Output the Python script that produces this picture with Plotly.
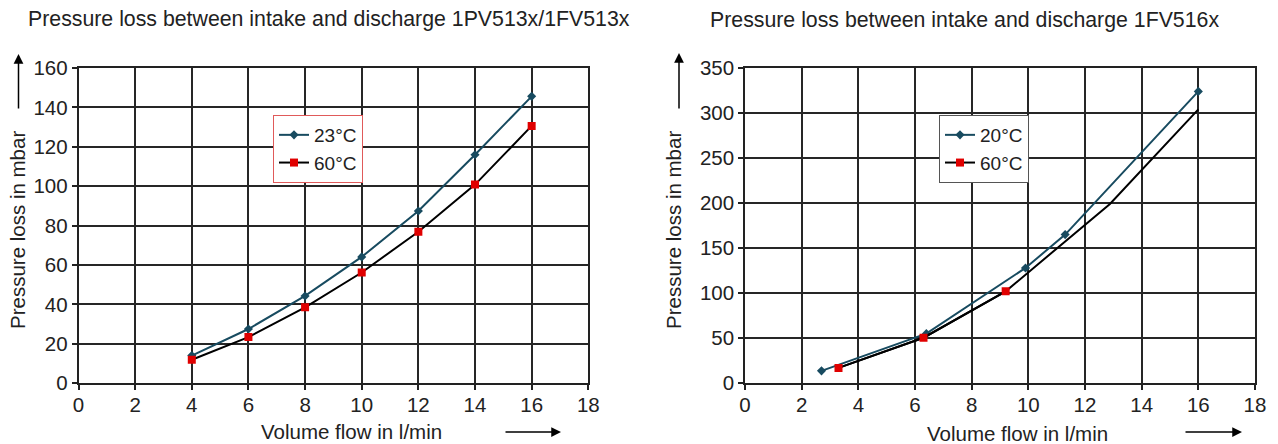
import plotly.graph_objects as go

# ---- data: left chart (1PV513x/1FV513x) ----
flow_left = [4, 6, 8, 10, 12, 14, 16]
loss_left_23 = [14, 27.5, 44.3, 64.1, 87.4, 116, 145.6]
loss_left_60 = [11.9, 23.4, 38.5, 56.2, 76.9, 100.8, 130.6]

# ---- data: right chart (1FV516x) ----
flow_right_20 = [2.7, 6.4, 9.9, 11.3, 16]
loss_right_20 = [13.7, 55, 128, 165, 324]
flow_right_60 = [3.3, 6.3, 9.2, 12.88, 16]
loss_right_60 = [17, 50.5, 102, 199, 304]
flow_right_60_marked = [3.3, 6.3, 9.2]
loss_right_60_marked = [17, 50.5, 102]

x_ticks = [0, 2, 4, 6, 8, 10, 12, 14, 16, 18]
y_ticks_left = [0, 20, 40, 60, 80, 100, 120, 140, 160]
y_ticks_right = [0, 50, 100, 150, 200, 250, 300, 350]

title_left = "Pressure loss between intake and discharge 1PV513x/1FV513x"
title_right = "Pressure loss between intake and discharge 1FV516x"
x_title = "Volume flow in l/min"
y_title = "Pressure loss in mbar"

FONT = "Liberation Sans, Arial, sans-serif"
TXT = "#222222"
TEAL = "#184b60"
RED = "#e00000"
W, H = 1278, 444

fig = go.Figure()

# left chart traces
fig.add_trace(go.Scatter(x=flow_left, y=loss_left_23, name="23°C", mode="lines+markers",
                         line=dict(color=TEAL, width=2),
                         marker=dict(symbol="diamond", size=7, color=TEAL),
                         xaxis="x", yaxis="y", legend="legend"))
fig.add_trace(go.Scatter(x=flow_left, y=loss_left_60, name="60°C", mode="lines+markers",
                         line=dict(color="black", width=2),
                         marker=dict(symbol="square", size=8, color=RED),
                         xaxis="x", yaxis="y", legend="legend"))

# right chart traces
fig.add_trace(go.Scatter(x=flow_right_20, y=loss_right_20, name="20°C", mode="lines+markers",
                         line=dict(color=TEAL, width=2),
                         marker=dict(symbol="diamond", size=7, color=TEAL),
                         xaxis="x2", yaxis="y2", legend="legend2"))
fig.add_trace(go.Scatter(x=flow_right_60, y=loss_right_60, name="60°C", mode="lines",
                         line=dict(color="black", width=2), showlegend=False,
                         xaxis="x2", yaxis="y2"))
fig.add_trace(go.Scatter(x=flow_right_60_marked, y=loss_right_60_marked, name="60°C",
                         mode="lines+markers",
                         line=dict(color="black", width=2),
                         marker=dict(symbol="square", size=8, color=RED),
                         xaxis="x2", yaxis="y2", legend="legend2"))

axis_common = dict(showline=True, linecolor="#222", linewidth=1.6, mirror=True,
                   showgrid=True, gridcolor="#262626", gridwidth=1.6,
                   ticks="outside", ticklen=5, tickwidth=1.6, tickcolor="#222",
                   tickfont=dict(family=FONT, size=20.5, color=TXT),
                   zeroline=False, fixedrange=True, automargin=False)

ydom = [1 - 383.2 / H, 1 - 68.0 / H]
fig.update_layout(
    template="none",
    width=W, height=H, autosize=False,
    margin=dict(l=0, r=0, t=0, b=0, pad=0),
    paper_bgcolor="white", plot_bgcolor="white",
    font=dict(family=FONT, size=20.5, color=TXT),
    xaxis=dict(domain=[78.5 / W, 588.3 / W], range=[0, 18], tickvals=x_ticks, anchor="y",
               ticklabelstandoff=-3, **axis_common),
    yaxis=dict(domain=ydom, range=[0, 160], tickvals=y_ticks_left, anchor="x", **axis_common),
    xaxis2=dict(domain=[745 / W, 1255 / W], range=[0, 18], tickvals=x_ticks, anchor="y2",
                ticklabelstandoff=-3, **axis_common),
    yaxis2=dict(domain=ydom, range=[0, 350], tickvals=y_ticks_right, anchor="x2", **axis_common),
    legend=dict(x=273 / W, y=1 - 115 / H, xanchor="left", yanchor="top",
                bgcolor="white", bordercolor="#e05a5a", borderwidth=1, itemwidth=30,
                font=dict(family=FONT, size=19, color=TXT), tracegroupgap=0),
    legend2=dict(x=939 / W, y=1 - 115 / H, xanchor="left", yanchor="top",
                 bgcolor="white", bordercolor="#555555", borderwidth=1, itemwidth=30,
                 font=dict(family=FONT, size=19, color=TXT), tracegroupgap=0),
    showlegend=True,
)

def px_x(p):
    return p / W

def px_y(p):
    return 1 - p / H

ann = []
# titles
ann.append(dict(text=title_left, x=px_x(329), y=px_y(19), xref="paper", yref="paper",
                showarrow=False, xanchor="center", yanchor="middle",
                font=dict(family=FONT, size=21.3, color=TXT)))
ann.append(dict(text=title_right, x=px_x(964), y=px_y(20), xref="paper", yref="paper",
                showarrow=False, xanchor="center", yanchor="middle",
                font=dict(family=FONT, size=21.3, color=TXT)))
# axis titles
ann.append(dict(text=x_title, x=px_x(351), y=px_y(431), xref="paper", yref="paper",
                showarrow=False, xanchor="center", yanchor="middle",
                font=dict(family=FONT, size=20.5, color=TXT)))
ann.append(dict(text=x_title, x=px_x(1018), y=px_y(433), xref="paper", yref="paper",
                showarrow=False, xanchor="center", yanchor="middle",
                font=dict(family=FONT, size=20.5, color=TXT)))
ann.append(dict(text=y_title, x=px_x(17), y=px_y(230), xref="paper", yref="paper",
                showarrow=False, xanchor="center", yanchor="middle", textangle=-90,
                font=dict(family=FONT, size=20.5, color=TXT)))
ann.append(dict(text=y_title, x=px_x(673), y=px_y(230), xref="paper", yref="paper",
                showarrow=False, xanchor="center", yanchor="middle", textangle=-90,
                font=dict(family=FONT, size=20.5, color=TXT)))
# arrows
arrow_style = dict(xref="paper", yref="paper", axref="pixel", ayref="pixel", text="",
                   showarrow=True, arrowhead=2, arrowsize=1.3, arrowwidth=1.5,
                   arrowcolor="black", standoff=0, startstandoff=0)
ann.append(dict(x=px_x(18.5), y=px_y(54), ax=0, ay=56, **arrow_style))
ann.append(dict(x=px_x(679), y=px_y(53), ax=0, ay=57, **arrow_style))
ann.append(dict(x=px_x(561), y=px_y(432), ax=-57, ay=0, **arrow_style))
ann.append(dict(x=px_x(1242), y=px_y(432), ax=-58, ay=0, **arrow_style))

fig.update_layout(annotations=ann)

fig.write_html("out.html", config={"displayModeBar": False},
               post_script="document.body.style.margin='0';")
